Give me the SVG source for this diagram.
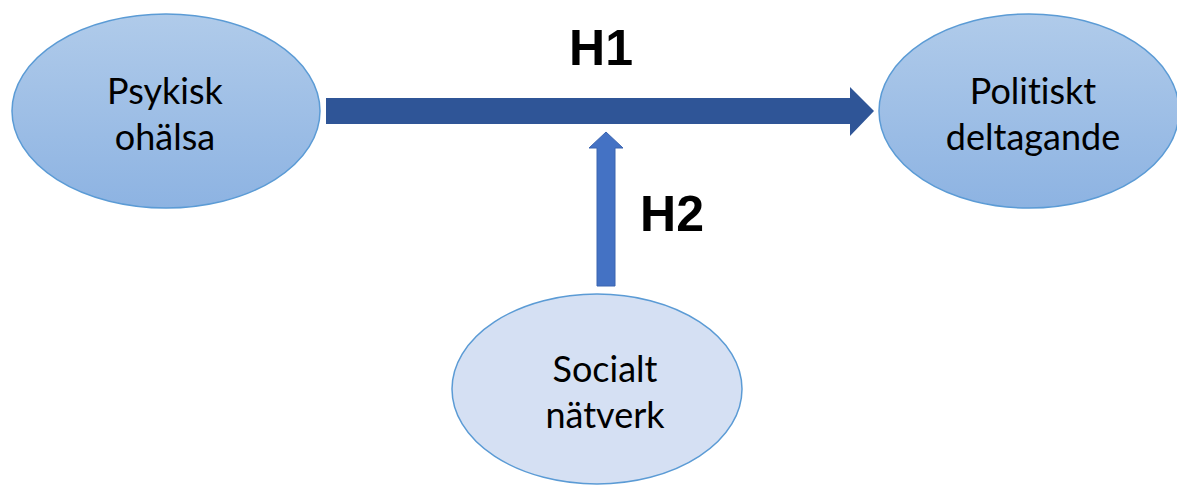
<svg xmlns="http://www.w3.org/2000/svg" width="1177" height="486" viewBox="0 0 1177 486">
<defs>
<linearGradient id="g1" x1="0" y1="0" x2="0" y2="1">
<stop offset="0" stop-color="#B0CBEA"/>
<stop offset="1" stop-color="#8DB3E2"/>
</linearGradient>
</defs>
<style>
.e{fill:url(#g1);stroke:#5B9BD5;stroke-width:1.5}
.e2{fill:#D5E0F3;stroke:#5B9BD5;stroke-width:1.5}
.t{font-family:Lato,"Open Sans",sans-serif;font-size:36px;fill:#000;text-anchor:middle;font-variant-ligatures:none;font-feature-settings:"liga" 0,"dlig" 0}
.h{font-family:"Liberation Sans",Arial,sans-serif;font-size:50px;font-weight:bold;fill:#000;text-anchor:middle}
</style>
<rect width="1177" height="486" fill="#fff"/>
<g id="connectors">
<path d="M326 98 H850 V87 L874 111 L850 136 V124 H326 Z" fill="#2F5597"/>
<path d="M597 286 V148 H589 L606 132 L623 148 H615 V286 Z" fill="#4472C4" stroke="#3A64B0" stroke-width="1"/>
</g>
<g id="n1">
<ellipse class="e" cx="166" cy="111" rx="154" ry="97"/>
<text class="t" x="165" y="104">Psykisk</text>
<text class="t" x="165" y="150">ohälsa</text>
</g>
<g id="n2">
<ellipse class="e" cx="1029" cy="111" rx="150" ry="97"/>
<text class="t" x="1033" y="104">Politiskt</text>
<text class="t" x="1033" y="150">deltagande</text>
</g>
<g id="n3">
<ellipse class="e2" cx="597" cy="389" rx="145" ry="95"/>
<text class="t" x="605" y="382">Socialt</text>
<text class="t" x="605" y="428">nätverk</text>
</g>
<g id="labels">
<text class="h" x="601" y="65">H1</text>
<text class="h" x="672" y="231">H2</text>
</g>
</svg>
